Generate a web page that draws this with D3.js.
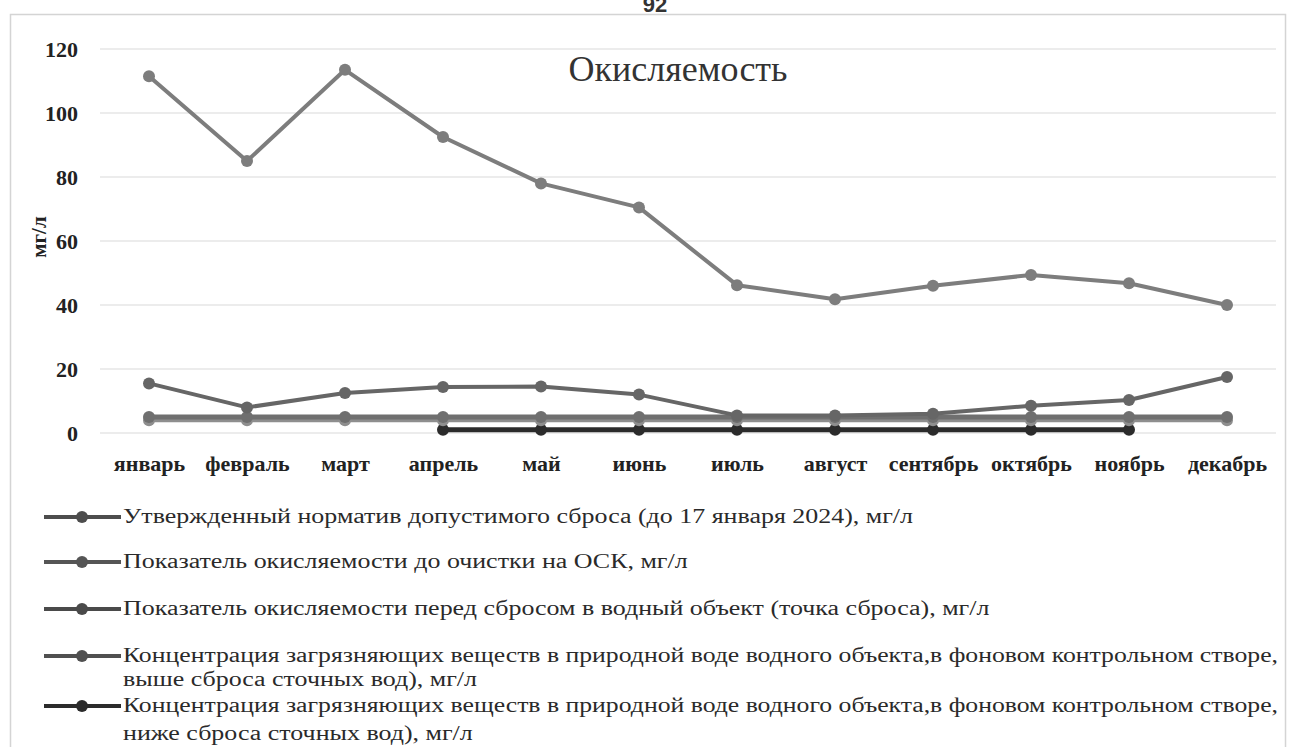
<!DOCTYPE html>
<html>
<head>
<meta charset="utf-8">
<script src="https://cdn.jsdelivr.net/npm/d3@7"></script>
<style>
  body { margin: 0; background: #fff; }
  svg { display: block; }
  .tick-lbl { font-family: "Liberation Serif", serif; font-weight: bold; font-size: 22px; fill: #222; }
  .legend-txt { font-family: "Liberation Serif", serif; font-size: 20px; fill: #2a2a2a; }
</style>
</head>
<body>
<svg width="1289" height="747"></svg>
<script>
// months on the x axis
const months = ["январь", "февраль", "март", "апрель", "май", "июнь", "июль",
  "август", "сентябрь", "октябрь", "ноябрь", "декабрь"];
const yTicks = [0, 20, 40, 60, 80, 100, 120];

// series values, мг/л (null = no measurement)
const normValues   = [5, 5, 5, 5, 5, 5, 5, 5, 5, 5, 5, 5];
const beforeValues = [111.5, 85, 113.5, 92.5, 78, 70.5, 46.2, 41.8, 46, 49.4, 46.8, 40];
const afterValues  = [15.5, 8, 12.5, 14.4, 14.5, 12, 5.5, 5.5, 6, 8.5, 10.3, 17.5];
const aboveValues  = [4, 4, 4, 4, 4, 4, 4, 4, 4, 4, 4, 4];
const belowValues  = [null, null, null, 1, 1, 1, 1, 1, 1, 1, 1, null];

const seriesNames = [
  ["Утвержденный норматив допустимого сброса (до 17 января 2024), мг/л"],
  ["Показатель окисляемости до очистки на ОСК, мг/л"],
  ["Показатель окисляемости перед сбросом в водный объект (точка сброса), мг/л"],
  ["Концентрация загрязняющих веществ в природной воде водного объекта,в фоновом контрольном створе,",
   "выше сброса сточных вод), мг/л"],
  ["Концентрация загрязняющих веществ в природной воде водного объекта,в фоновом контрольном створе,",
   "ниже сброса сточных вод), мг/л"]
];

const series = [
  {values: normValues,   color: "#6f6f6f", w: 5, r: 6},
  {values: beforeValues, color: "#7d7d7d", w: 4, r: 6},
  {values: afterValues,  color: "#666666", w: 4, r: 6},
  {values: aboveValues,  color: "#8e8e8e", w: 4, r: 6},
  {values: belowValues,  color: "#2b2b2b", w: 5, r: 6}
];
const legendColors = ["#4d4d4d", "#555555", "#4a4a4a", "#505050", "#2b2b2b"];

const svg = d3.select("svg");

// outer frame of the scanned chart
svg.append("rect")
  .attr("x", 10.5).attr("y", 14.5)
  .attr("width", 1275).attr("height", 760)
  .attr("fill", "none").attr("stroke", "#d4d4d4").attr("stroke-width", 1.5);

// page number, partly cut at the top as in the scan
svg.append("text")
  .attr("x", 655).attr("y", 12)
  .attr("text-anchor", "middle")
  .style("font-family", "Liberation Sans, sans-serif").style("font-weight", "bold")
  .style("font-size", "22px").style("fill", "#333")
  .text("92");

const x = d3.scalePoint().domain(months).range([100, 1276]).padding(0.5);
const y = d3.scaleLinear().domain([0, 120]).range([433, 49]);

// gridlines
svg.append("g").selectAll("line")
  .data(yTicks)
  .enter().append("line")
  .attr("x1", 100).attr("x2", 1276)
  .attr("y1", d => y(d)).attr("y2", d => y(d))
  .attr("stroke", "#d9d9d9").attr("stroke-width", 1.2);

// y axis labels
const yAxis = svg.append("g")
  .attr("transform", "translate(78,0)")
  .call(d3.axisLeft(y).tickValues(yTicks).tickSize(0).tickPadding(0));
yAxis.select(".domain").remove();
yAxis.selectAll("text").attr("class", "tick-lbl").attr("font-family", null).attr("font-size", null);

// x axis labels
const xAxis = svg.append("g")
  .attr("transform", "translate(0,451)")
  .call(d3.axisBottom(x).tickSize(0).tickPadding(4));
xAxis.select(".domain").remove();
xAxis.selectAll("text").attr("class", "tick-lbl").attr("font-family", null).attr("font-size", null);

// y title
svg.append("text")
  .attr("transform", "translate(46,237) rotate(-90)")
  .attr("text-anchor", "middle")
  .style("font-family", "Liberation Serif, serif").style("font-weight", "bold")
  .style("font-size", "21px").style("fill", "#222")
  .text("мг/л");

// chart title
svg.append("text")
  .attr("x", 678).attr("y", 81)
  .attr("text-anchor", "middle")
  .style("font-family", "Liberation Serif, serif")
  .style("font-size", "36px").style("fill", "#333")
  .text("Окисляемость");

const line = d3.line()
  .defined(d => d != null)
  .x((d, i) => x(months[i]))
  .y(d => y(d));

// draw order: below/above first so the norm and main lines sit on top
const order = [4, 3, 0, 2, 1];
order.forEach(k => {
  const s = series[k];
  const g = svg.append("g");
  g.append("path")
    .datum(s.values)
    .attr("fill", "none")
    .attr("stroke", s.color)
    .attr("stroke-width", s.w)
    .attr("stroke-linejoin", "round")
    .attr("d", line);
  g.selectAll("circle")
    .data(s.values.map((v, i) => ({v, m: months[i]})).filter(d => d.v != null))
    .enter().append("circle")
    .attr("cx", d => x(d.m))
    .attr("cy", d => y(d.v))
    .attr("r", s.r)
    .attr("fill", s.color);
});

// legend
const legendRows = [517, 562, 609, 656, 706];
const lineGap = [0, 0, 0, 24, 28];
const legendTexts = [];
seriesNames.forEach((lines, k) => {
  const ly = legendRows[k];
  const g = svg.append("g");
  g.append("line")
    .attr("x1", 44).attr("x2", 121)
    .attr("y1", ly).attr("y2", ly)
    .attr("stroke", legendColors[k])
    .attr("stroke-width", 4);
  g.append("circle")
    .attr("cx", 82).attr("cy", ly).attr("r", 6)
    .attr("fill", legendColors[k]);
  lines.forEach((t, j) => {
    legendTexts.push(g.append("text")
      .attr("class", "legend-txt")
      .attr("x", 123).attr("y", ly + 6 + j * lineGap[k])
      .text(t));
  });
});
// the scan is stretched sideways: widen all legend texts by one common factor
const stretch = 790 / legendTexts[0].node().getComputedTextLength();
legendTexts.forEach(t => {
  const w = t.node().getComputedTextLength();
  t.attr("textLength", Math.min(w * stretch, 1155)).attr("lengthAdjust", "spacingAndGlyphs");
});
</script>
</body>
</html>
